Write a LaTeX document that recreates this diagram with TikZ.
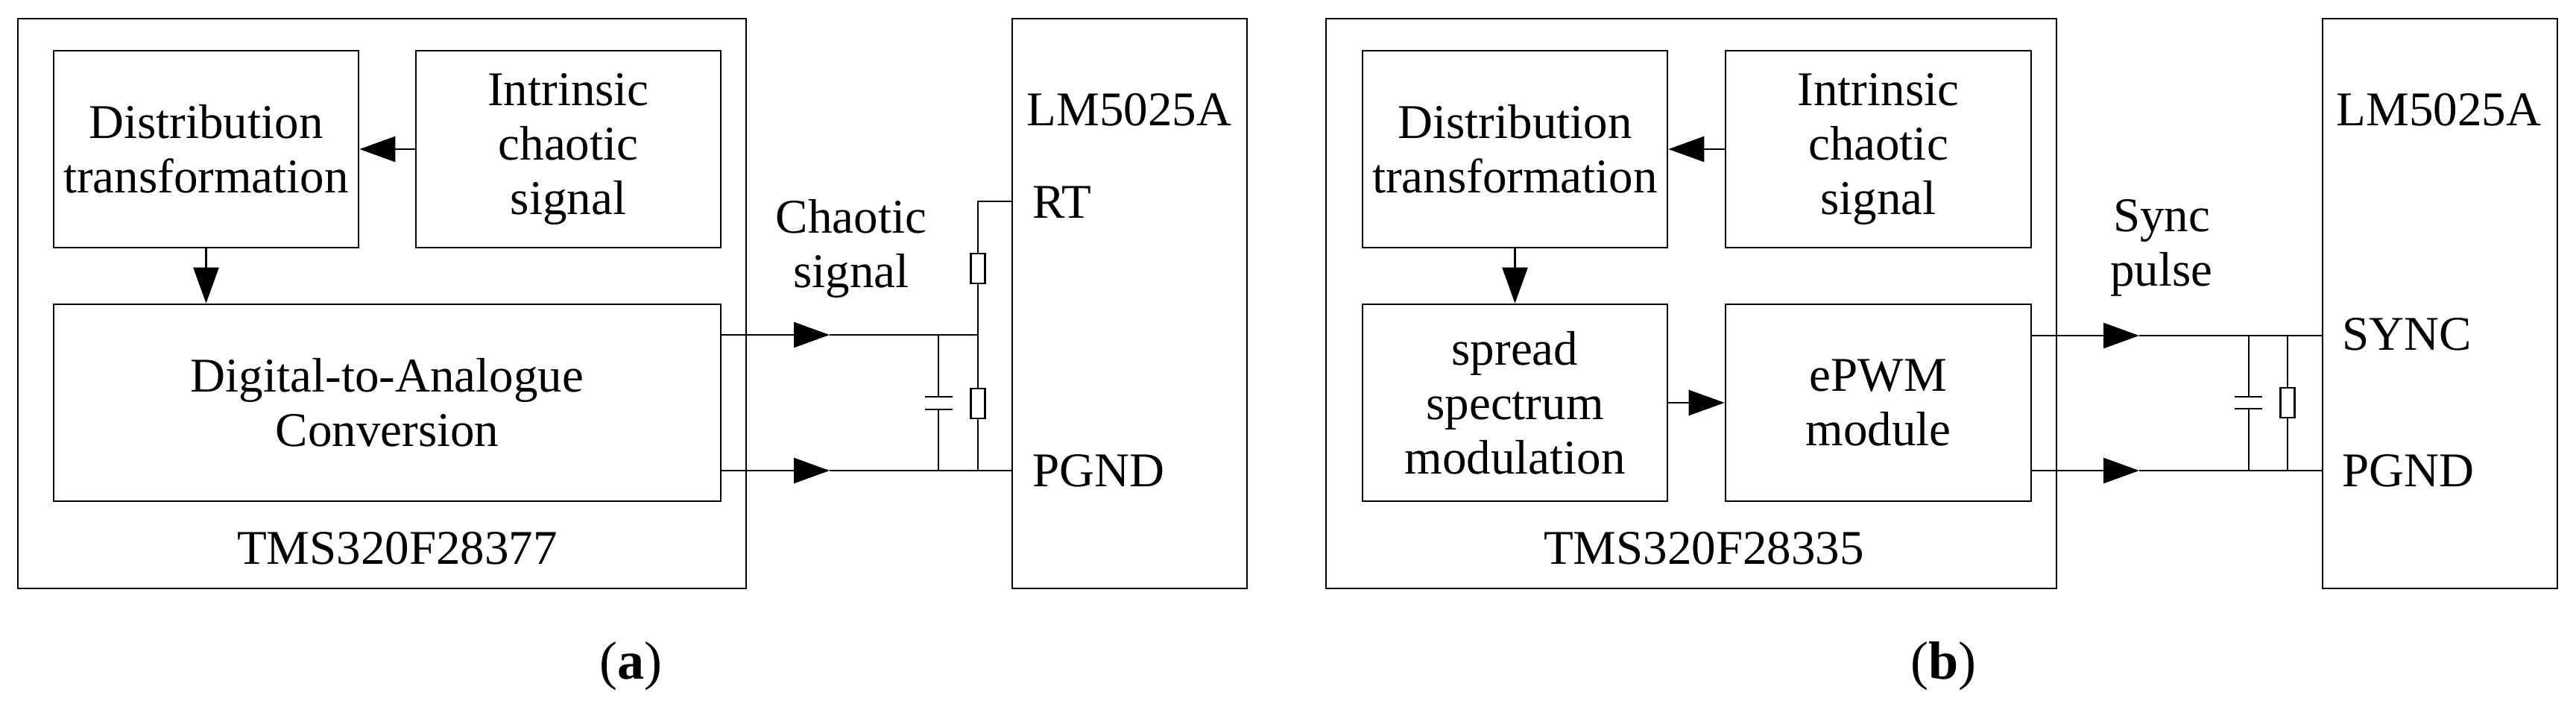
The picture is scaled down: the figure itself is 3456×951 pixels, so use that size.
\documentclass[tikz,border=0pt]{standalone}
\usepackage{fontspec}
\setmainfont{Liberation Serif}
\usetikzlibrary{arrows.meta}
\begin{document}
\begin{tikzpicture}[x=1pt,y=-1pt,line width=2.6pt,
  box/.style={draw,line width=2.6pt,inner sep=0pt,align=center,font=\fontsize{65}{73}\selectfont},
  lbl/.style={inner sep=0pt,anchor=base,font=\fontsize{65}{73}\selectfont},
  lbll/.style={inner sep=0pt,anchor=base west,font=\fontsize{65}{73}\selectfont},
  arr/.style={-{Triangle[length=48pt,width=34pt]}},
  res/.style={draw,fill=white,line width=2.4pt,minimum width=19pt,minimum height=40pt,inner sep=0pt},
  plate/.style={line width=2.6pt}]
\useasboundingbox (0,0) rectangle (3456,951);
% ---------------- panel (a)
\node[box,minimum width=977pt,minimum height=764pt] (outa) at (512.5,407) {};
\node[box,minimum width=409pt,minimum height=264pt] (dista) at (276.5,200) {Distribution\\transformation};
\node[box,minimum width=409pt,minimum height=264pt] (intra) at (762.5,200) {Intrinsic\\chaotic\\signal};
\node[box,minimum width=895pt,minimum height=264pt] (dac) at (519.5,540) {Digital-to-Analogue\\Conversion};
\node[lbl] (tmsa) at (533,756) {TMS320F28377};
\node[box,minimum width=315pt,minimum height=764pt] (lma) at (1515.5,407) {};
\node[lbl] (lmta) at (1515,168) {LM5025A};
\node[lbll] (rt) at (1384,292) {RT};
\node[lbll] (pgnda) at (1384,652) {PGND};
\node[lbl,align=center] (chs) at (1142,312) {Chaotic};
\node[lbl] (chs2) at (1142,385) {signal};
\node[inner sep=0pt,anchor=base,font=\fontsize{72}{80}\selectfont] (capa) at (846,910) {(\textbf{a})};
\draw[arr] (intra.west) -- (dista.east);
\draw[arr] (dista.south) -- (dista.south |- dac.north);
\coordinate (a1) at (1113,449);
\coordinate (a2) at (1113,631);
\coordinate (ja) at (1312,449);
\coordinate (jrt) at (1312,270);
\coordinate (ca) at (1259,449);
\coordinate (cb) at (1259,631);
\coordinate (jb) at (1312,631);
\draw[arr] (dac.east |- a1) -- (a1);
\draw (a1) -- (ja) -- (jrt) -- (lma.west |- jrt);
\draw[arr] (dac.east |- a2) -- (a2);
\draw (a2) -- (lma.west |- a2);
\draw (ja) -- (jb);
\node[res] (r1) at (1312,360) {};
\node[res] (r2) at (1312,541) {};
\draw (ca) -- (1259,532) (1259,549) -- (cb);
\draw[plate] (1241,532) -- (1278,532) (1241,549) -- (1278,549);
% ---------------- panel (b)
\node[box,minimum width=980pt,minimum height=764pt] (outb) at (2269,407) {};
\node[box,minimum width=409pt,minimum height=264pt] (distb) at (2032.5,200) {Distribution\\transformation};
\node[box,minimum width=410pt,minimum height=264pt] (intrb) at (2520,200) {Intrinsic\\chaotic\\signal};
\node[box,minimum width=409pt,minimum height=264pt] (ssm) at (2032.5,540) {spread\\spectrum\\modulation};
\node[box,minimum width=410pt,minimum height=264pt] (epwm) at (2520,540) {ePWM\\module};
\node[lbl] (tmsb) at (2286,756) {TMS320F28335};
\node[box,minimum width=315pt,minimum height=764pt] (lmb) at (3273.5,407) {};
\node[lbl] (lmtb) at (3272,168) {LM5025A};
\node[lbll] (sync) at (3141,469) {SYNC};
\node[lbll] (pgndb) at (3141,652) {PGND};
\node[lbl] (sp1) at (2900,310) {Sync};
\node[lbl] (sp2) at (2900,383) {pulse};
\node[inner sep=0pt,anchor=base,font=\fontsize{72}{80}\selectfont] (capb) at (2607,910) {(\textbf{b})};
\draw[arr] (intrb.west) -- (distb.east);
\draw[arr] (distb.south) -- (distb.south |- ssm.north);
\draw[arr] (ssm.east) -- (epwm.west);
\coordinate (b1) at (2870,450);
\coordinate (b2) at (2870,631);
\draw[arr] (epwm.east |- b1) -- (b1);
\draw (b1) -- (lmb.west |- b1);
\draw[arr] (epwm.east |- b2) -- (b2);
\draw (b2) -- (lmb.west |- b2);
\draw (3069,450) -- (3069,631);
\node[res] (r3) at (3069,540) {};
\draw (3017,450) -- (3017,532) (3017,548) -- (3017,631);
\draw[plate] (2998,532) -- (3035,532) (2998,548) -- (3035,548);
\end{tikzpicture}
\end{document}
